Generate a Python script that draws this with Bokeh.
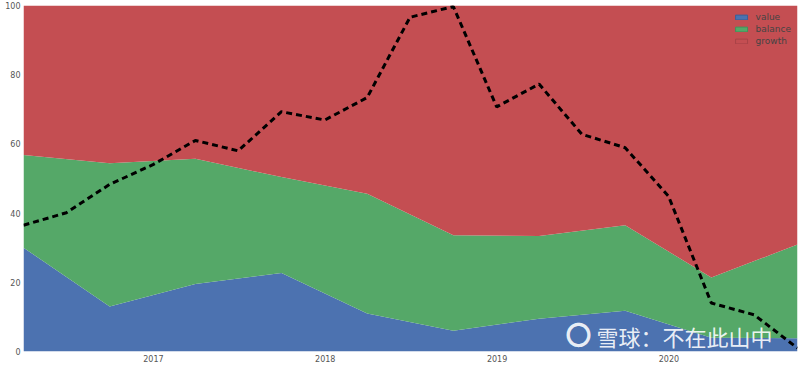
import math
import pandas as pd
from bokeh.plotting import figure
from bokeh.models import (ColumnDataSource, FixedTicker, DatetimeTickFormatter, Label, Range1d,
                          Legend, LegendItem)
from bokeh.embed import file_html
from bokeh.resources import INLINE

# ---- data ----
area_dates = ["2016-03-31", "2016-09-30", "2017-03-31", "2017-09-30", "2018-03-31",
              "2018-09-30", "2019-03-31", "2019-09-30", "2020-03-31", "2020-09-30"]
value = [30.0, 13.0, 19.5, 22.7, 11.0, 6.0, 9.5, 11.8, 4.0, 3.8]
balance = [26.8, 41.4, 36.2, 27.7, 34.6, 27.6, 23.9, 24.7, 17.4, 27.1]
growth = [43.2, 45.6, 44.3, 49.6, 54.4, 66.4, 66.6, 63.5, 78.6, 69.1]

line_dates = ["2016-03-31", "2016-06-30", "2016-09-30", "2016-12-31",
              "2017-03-31", "2017-06-30", "2017-09-30", "2017-12-31",
              "2018-03-31", "2018-06-30", "2018-09-30", "2018-12-31",
              "2019-03-31", "2019-06-30", "2019-09-30", "2019-12-31",
              "2020-03-31", "2020-06-30", "2020-09-30"]
line_vals = [36.5, 40.1, 48.3, 54.0, 61.0, 58.0, 69.3, 66.9, 73.4, 96.6,
             99.7, 70.7, 77.3, 62.8, 58.9, 44.9, 14.0, 10.6, 1.0]

year_ticks = ["2017-01-01", "2018-01-01", "2019-01-01", "2020-01-01"]
y_ticks = [0, 20, 40, 60, 80, 100]
series = ["value", "balance", "growth"]
colors = ["#4C72B0", "#55A868", "#C44E52"]
edge_colors = ["#3d5f96", "#44905a", "#a84347"]
watermark = "雪球：不在此山中"

area_src = ColumnDataSource(dict(date=pd.to_datetime(area_dates),
                                 value=value, balance=balance, growth=growth))
line_src = ColumnDataSource(dict(date=pd.to_datetime(line_dates), v=line_vals))

ad = pd.to_datetime(area_dates)
p = figure(width=798, height=364, x_axis_type="datetime",
           output_backend="svg", toolbar_location=None,
           x_range=Range1d(ad.min(), ad.max()), y_range=Range1d(0, 100),
           min_border_left=23, min_border_right=1, min_border_top=5, min_border_bottom=0)

p.varea_stack(series, x="date", source=area_src, color=colors)
p.line("date", "v", source=line_src, line_color="black", line_width=3, line_dash="6 4")

# legend swatches: renderers with a single NaN row, so only the legend shows them
nan = float("nan")
items = []
for name, c, ec in zip(series, colors, edge_colors):
    src = ColumnDataSource(dict(l=[nan], r=[nan], t=[nan], b=[nan]))
    r = p.quad(left="l", right="r", top="t", bottom="b", source=src,
               fill_color=c, line_color=ec, line_width=1)
    items.append(LegendItem(label=name, renderers=[r]))
lg = Legend(items=items, location="top_right")
p.add_layout(lg)

epoch = pd.Timestamp("1970-01-01")
p.xaxis.ticker = FixedTicker(ticks=[(pd.Timestamp(t) - epoch) // pd.Timedelta("1ms") for t in year_ticks])
p.xaxis.formatter = DatetimeTickFormatter(years="%Y", months="%Y", days="%Y", hours="%Y")
p.yaxis.ticker = FixedTicker(ticks=y_ticks)

for ax in (p.xaxis, p.yaxis):
    ax.axis_line_color = None
    ax.major_tick_line_color = None
    ax.minor_tick_line_color = None
    ax.major_tick_out = 0
    ax.major_tick_in = 0
    ax.minor_tick_out = 0
    ax.minor_tick_in = 0
    ax.major_label_text_font_size = "8px"
    ax.major_label_text_color = "#555555"
    ax.major_label_text_font = "DejaVu Sans"
    ax.major_label_standoff = 3

p.xgrid.visible = False
p.ygrid.visible = False
p.outline_line_color = None
p.background_fill_color = "white"

lg.background_fill_alpha = 0
lg.border_line_alpha = 0
lg.label_text_font_size = "9px"
lg.label_text_color = "#444444"
lg.label_text_font = "DejaVu Sans"
lg.glyph_width = 15
lg.glyph_height = 6
lg.label_height = 11
lg.spacing = 1
lg.padding = 2
lg.margin = 4
lg.label_standoff = 7

logo = Label(x=542, y=0, x_units="screen", y_units="screen", text="〇",
             text_font="Noto Sans CJK SC", text_font_size="26px", text_color="white",
             text_alpha=0.9, text_font_style="bold")
p.add_layout(logo)
wm = Label(x=573, y=0, x_units="screen", y_units="screen", text=watermark,
           text_font="Noto Sans CJK SC", text_font_size="22px", text_color="white",
           text_alpha=0.9)
p.add_layout(wm)

open("out.html", "w").write(file_html(p, INLINE))
